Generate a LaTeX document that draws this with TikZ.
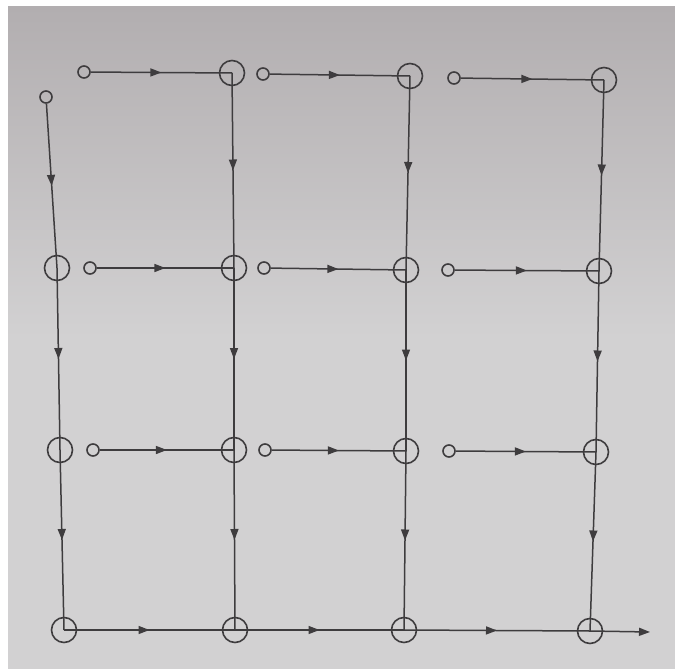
\documentclass[tikz,border=0pt]{standalone}
\usepackage{xcolor}
\definecolor{cPaper}{RGB}{210,209,210}
\definecolor{cPaperTop}{RGB}{178,174,176}
\definecolor{cInk}{RGB}{62,60,62}
\usepackage{tikz}
\usetikzlibrary{arrows.meta,decorations.markings}
\tikzset{
  big-dot/.style={draw=cInk,line width=1.6pt,circle,inner sep=0pt,minimum size=25pt},
  small-dot/.style={draw=cInk,line width=1.6pt,circle,inner sep=0pt,minimum size=12pt},
  flow/.style={draw=cInk,line width=1.5pt,
    decoration={markings,mark=at position 0.5 with {\arrow{Triangle[length=11pt,width=8pt]}}},
    postaction={decorate}},
  flow-out/.style={draw=cInk,line width=1.5pt,-{Triangle[length=11pt,width=8pt]}},
}
\begin{document}
\begin{tikzpicture}[x=1pt,y=-1pt]
  % page
  \fill[white] (0,0) rectangle (675,669);
  \shade[top color=cPaperTop,bottom color=cPaper,middle color=cPaper] (8,7) rectangle (675,669);
  \useasboundingbox (0,0) rectangle (675,669);

  % top row
  \node[small-dot] (s0)  at (46,97) {};
  \node[small-dot] (t1)  at (84,72) {};
  \node[big-dot]   (b01) at (232,73) {};
  \node[small-dot] (t2)  at (263,74) {};
  \node[big-dot]   (b02) at (410,76) {};
  \node[small-dot] (t3)  at (454,78) {};
  \node[big-dot]   (b03) at (604,80) {};
  % second row
  \node[big-dot]   (b10) at (57,268) {};
  \node[small-dot] (s11) at (90,268) {};
  \node[big-dot]   (b11) at (234,268) {};
  \node[small-dot] (s12) at (264,268) {};
  \node[big-dot]   (b12) at (406,270) {};
  \node[small-dot] (s13) at (448,270) {};
  \node[big-dot]   (b13) at (599,271) {};
  % third row
  \node[big-dot]   (b20) at (60,450) {};
  \node[small-dot] (s21) at (93,450) {};
  \node[big-dot]   (b21) at (234,450) {};
  \node[small-dot] (s22) at (265,450) {};
  \node[big-dot]   (b22) at (406,451) {};
  \node[small-dot] (s23) at (449,451) {};
  \node[big-dot]   (b23) at (596,452) {};
  % bottom row
  \node[big-dot]   (b30) at (64,630) {};
  \node[big-dot]   (b31) at (235,630) {};
  \node[big-dot]   (b32) at (404,630) {};
  \node[big-dot]   (b33) at (590,631) {};
  \coordinate (out) at (650,632);

  % horizontal
  \draw[flow] (t1) -- (b01.center);
  \draw[flow] (t2) -- (b02.center);
  \draw[flow] (t3) -- (b03.center);
  \draw[flow] (s11) -- (b11.center);
  \draw[flow] (s12) -- (b12.center);
  \draw[flow] (s13) -- (b13.center);
  \draw[flow] (s21) -- (b21.center);
  \draw[flow] (s22) -- (b22.center);
  \draw[flow] (s23) -- (b23.center);
  \draw[flow] (b30.center) -- (b31.center);
  \draw[flow] (b31.center) -- (b32.center);
  \draw[flow] (b32.center) -- (b33.center);
  \draw[flow-out] (b33.center) -- (out);

  % vertical
  \draw[flow] (s0) -- (b10.center);
  \draw[flow] (b10.center) -- (b20.center);
  \draw[flow] (b20.center) -- (b30.center);
  \draw[flow] (b01.center) -- (b11.center);
  \draw[flow] (b11.center) -- (b21.center);
  \draw[flow] (b21.center) -- (b31.center);
  \draw[flow] (b02.center) -- (b12.center);
  \draw[flow] (b12.center) -- (b22.center);
  \draw[flow] (b22.center) -- (b32.center);
  \draw[flow] (b03.center) -- (b13.center);
  \draw[flow] (b13.center) -- (b23.center);
  \draw[flow] (b23.center) -- (b33.center);
\end{tikzpicture}
\end{document}
